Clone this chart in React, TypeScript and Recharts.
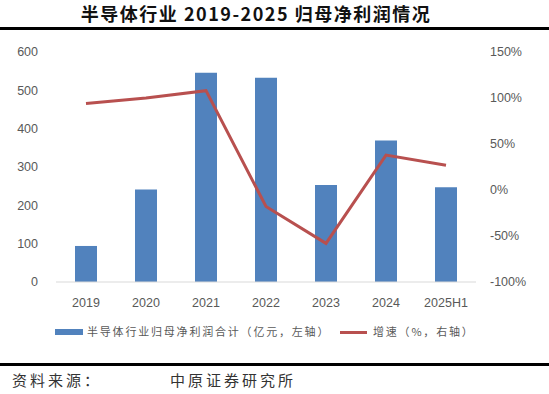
import React from 'react';
import { ComposedChart, Bar, Line, XAxis, YAxis } from 'recharts';

const years = ['2019', '2020', '2021', '2022', '2023', '2024', '2025H1'];
const netProfit = [94, 241, 546, 533, 253, 369, 247];
const growthRate = [94, 100, 108, -18, -58, 38, 27];
const leftTicks = [0, 100, 200, 300, 400, 500, 600];
const rightTicks = [-100, -50, 0, 50, 100, 150];

const BAR_COLOR = '#5182BD';
const LINE_COLOR = '#B8504F';
const TICK_COLOR = '#595959';
const CJK = '"Noto Sans CJK SC", "Noto Sans", sans-serif';

const data = years.map((year, i) => ({
  year,
  profit: netProfit[i],
  growth: growthRate[i],
}));

const tickStyle = { fill: TICK_COLOR, fontSize: 12.5, fontFamily: '"Liberation Sans", Arial, sans-serif' };

export default function App() {
  return (
    <div style={{ position: 'absolute', left: 0, top: 0, width: 549, height: 394, background: '#fff', overflow: 'hidden' }}>
      <div style={{ position: 'absolute', left: 0, top: 0, width: 512, textAlign: 'center', fontFamily: CJK, fontWeight: 700, fontSize: 18, letterSpacing: 1.5, color: '#111', whiteSpace: 'nowrap' }}>
        半导体行业 2019-2025 归母净利润情况
      </div>
      <div style={{ position: 'absolute', left: 0, top: 27, width: 549, height: 3, background: '#000' }} />
      <ComposedChart
        width={549}
        height={394}
        data={data}
        margin={{ top: 52, right: 0, bottom: 82, left: 0 }}
        barCategoryGap={41}
      >
        <XAxis
          dataKey="year"
          tick={tickStyle}
          tickLine={false}
          tickSize={0}
          tickMargin={16}
          axisLine={{ stroke: '#D9D9D9' }}
          height={30}
          interval={0}
        />
        <YAxis
          yAxisId="left"
          domain={[0, 600]}
          ticks={leftTicks}
          width={56}
          tick={tickStyle}
          tickLine={false}
          axisLine={false}
          tickSize={0}
          tickMargin={18}
        />
        <YAxis
          yAxisId="right"
          orientation="right"
          domain={[-100, 150]}
          ticks={rightTicks}
          width={73}
          tick={{ ...tickStyle, textAnchor: 'start' }}
          tickFormatter={(v: number) => `${v}%`}
          tickLine={false}
          axisLine={false}
          tickSize={0}
          tickMargin={14}
        />
        <Bar yAxisId="left" dataKey="profit" fill={BAR_COLOR} isAnimationActive={false} />
        <Line
          yAxisId="right"
          dataKey="growth"
          stroke={LINE_COLOR}
          strokeWidth={3}
          dot={false}
          activeDot={false}
          isAnimationActive={false}
        />
      </ComposedChart>
      <div style={{ position: 'absolute', left: 0, top: 322, width: 549, height: 20, fontFamily: CJK, fontSize: 11, color: TICK_COLOR, letterSpacing: 1.8 }}>
        <span style={{ position: 'absolute', left: 55, top: 7, width: 28, height: 6, background: BAR_COLOR }} />
        <span style={{ position: 'absolute', left: 87, top: 1, whiteSpace: 'nowrap' }}>半导体行业归母净利润合计（亿元，左轴）</span>
        <span style={{ position: 'absolute', left: 340, top: 9, width: 27, height: 3, background: LINE_COLOR }} />
        <span style={{ position: 'absolute', left: 373, top: 1, whiteSpace: 'nowrap' }}>增速（%，右轴）</span>
      </div>
      <div style={{ position: 'absolute', left: 0, top: 363, width: 549, height: 3, background: '#000' }} />
      <div style={{ position: 'absolute', left: 12, top: 369, fontFamily: CJK, fontSize: 15, letterSpacing: 3, color: '#333', whiteSpace: 'nowrap' }}>
        资料来源：
      </div>
      <div style={{ position: 'absolute', left: 170, top: 369, fontFamily: CJK, fontSize: 15, letterSpacing: 3, color: '#333', whiteSpace: 'nowrap' }}>
        中原证券研究所
      </div>
    </div>
  );
}
